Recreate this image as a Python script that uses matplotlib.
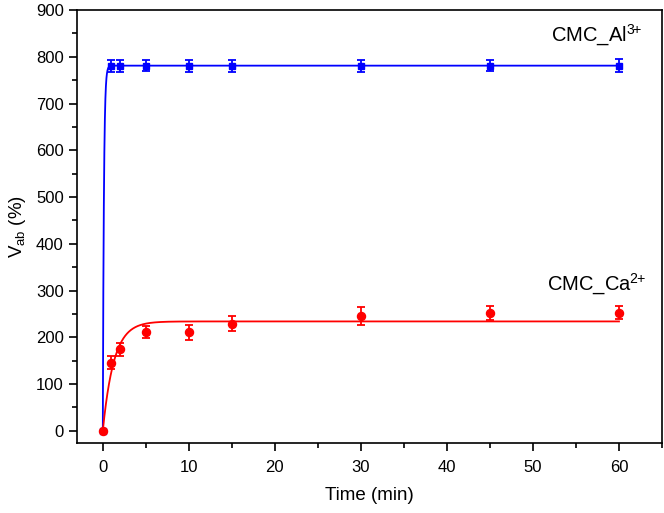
import numpy as np
import matplotlib
matplotlib.use("Agg")
import matplotlib.pyplot as plt
from matplotlib.ticker import MultipleLocator

plt.rcParams['font.family'] = ['Liberation Sans', 'DejaVu Sans']
plt.rcParams['mathtext.fontset'] = 'custom'
plt.rcParams['mathtext.rm'] = 'Liberation Sans'
plt.rcParams['mathtext.it'] = 'Liberation Sans'

# Data
time_min = [0, 1, 2, 5, 10, 15, 30, 45, 60]
al_values = [0, 781, 781, 781, 781, 781, 781, 781, 781]
al_errors = [0, 13, 13, 12, 13, 13, 13, 12, 14]
ca_values = [0, 146, 174, 212, 211, 229, 246, 253, 253]
ca_errors = [0, 13, 14, 13, 16, 16, 19, 15, 13]

# Fitted exponential curves y = A * (1 - exp(-k t))
al_fit_A, al_fit_k = 781, 8.0
ca_fit_A, ca_fit_k = 234, 0.78

fig = plt.figure(figsize=(6.64, 5.13), dpi=100)
ax = fig.add_axes([77/664, 70/513, 585/664, 433/513])

t = np.linspace(0, 60, 2000)
ax.plot(t, al_fit_A * (1 - np.exp(-al_fit_k * t)), color='#0000ff', lw=1.3, zorder=2)
ax.plot(t, ca_fit_A * (1 - np.exp(-ca_fit_k * t)), color='#ff0000', lw=1.3, zorder=2)

ax.errorbar(time_min, al_values, yerr=al_errors, fmt='s', color='#0000ff',
            ms=4.5, capsize=3.2, elinewidth=1.3, capthick=1.3, zorder=3)
ax.errorbar(time_min, ca_values, yerr=ca_errors, fmt='o', color='#ff0000',
            ms=5.8, capsize=3.2, elinewidth=1.3, capthick=1.3, zorder=4)

ax.set_xlim(-3, 65)
ax.set_ylim(-26, 900)
ax.xaxis.set_major_locator(MultipleLocator(10))
ax.xaxis.set_minor_locator(MultipleLocator(5))
ax.yaxis.set_major_locator(MultipleLocator(100))
ax.yaxis.set_minor_locator(MultipleLocator(50))
ax.tick_params(which='both', direction='out', top=False, right=False, width=1.2, labelsize=12)
ax.tick_params(which='major', length=6)
ax.tick_params(which='minor', length=3.5)
ax.tick_params(axis='x', which='major', pad=6)
ax.tick_params(axis='y', which='major', pad=3.5)
for s in ax.spines.values():
    s.set_linewidth(1.2)

ax.set_xlabel('Time (min)', fontsize=13.5, labelpad=9)
ax.set_ylabel(r'V$_{\mathrm{ab}}$ (%)', fontsize=13.5, labelpad=6)

ax.text(52.1, 832, r'CMC_Al$^{3\!\!+}$', fontsize=14.5, ha='left', va='baseline')
ax.text(51.6, 301, r'CMC_Ca$^{2\!\!+}$', fontsize=14.5, ha='left', va='baseline')

fig.savefig('out.png', dpi=100)
